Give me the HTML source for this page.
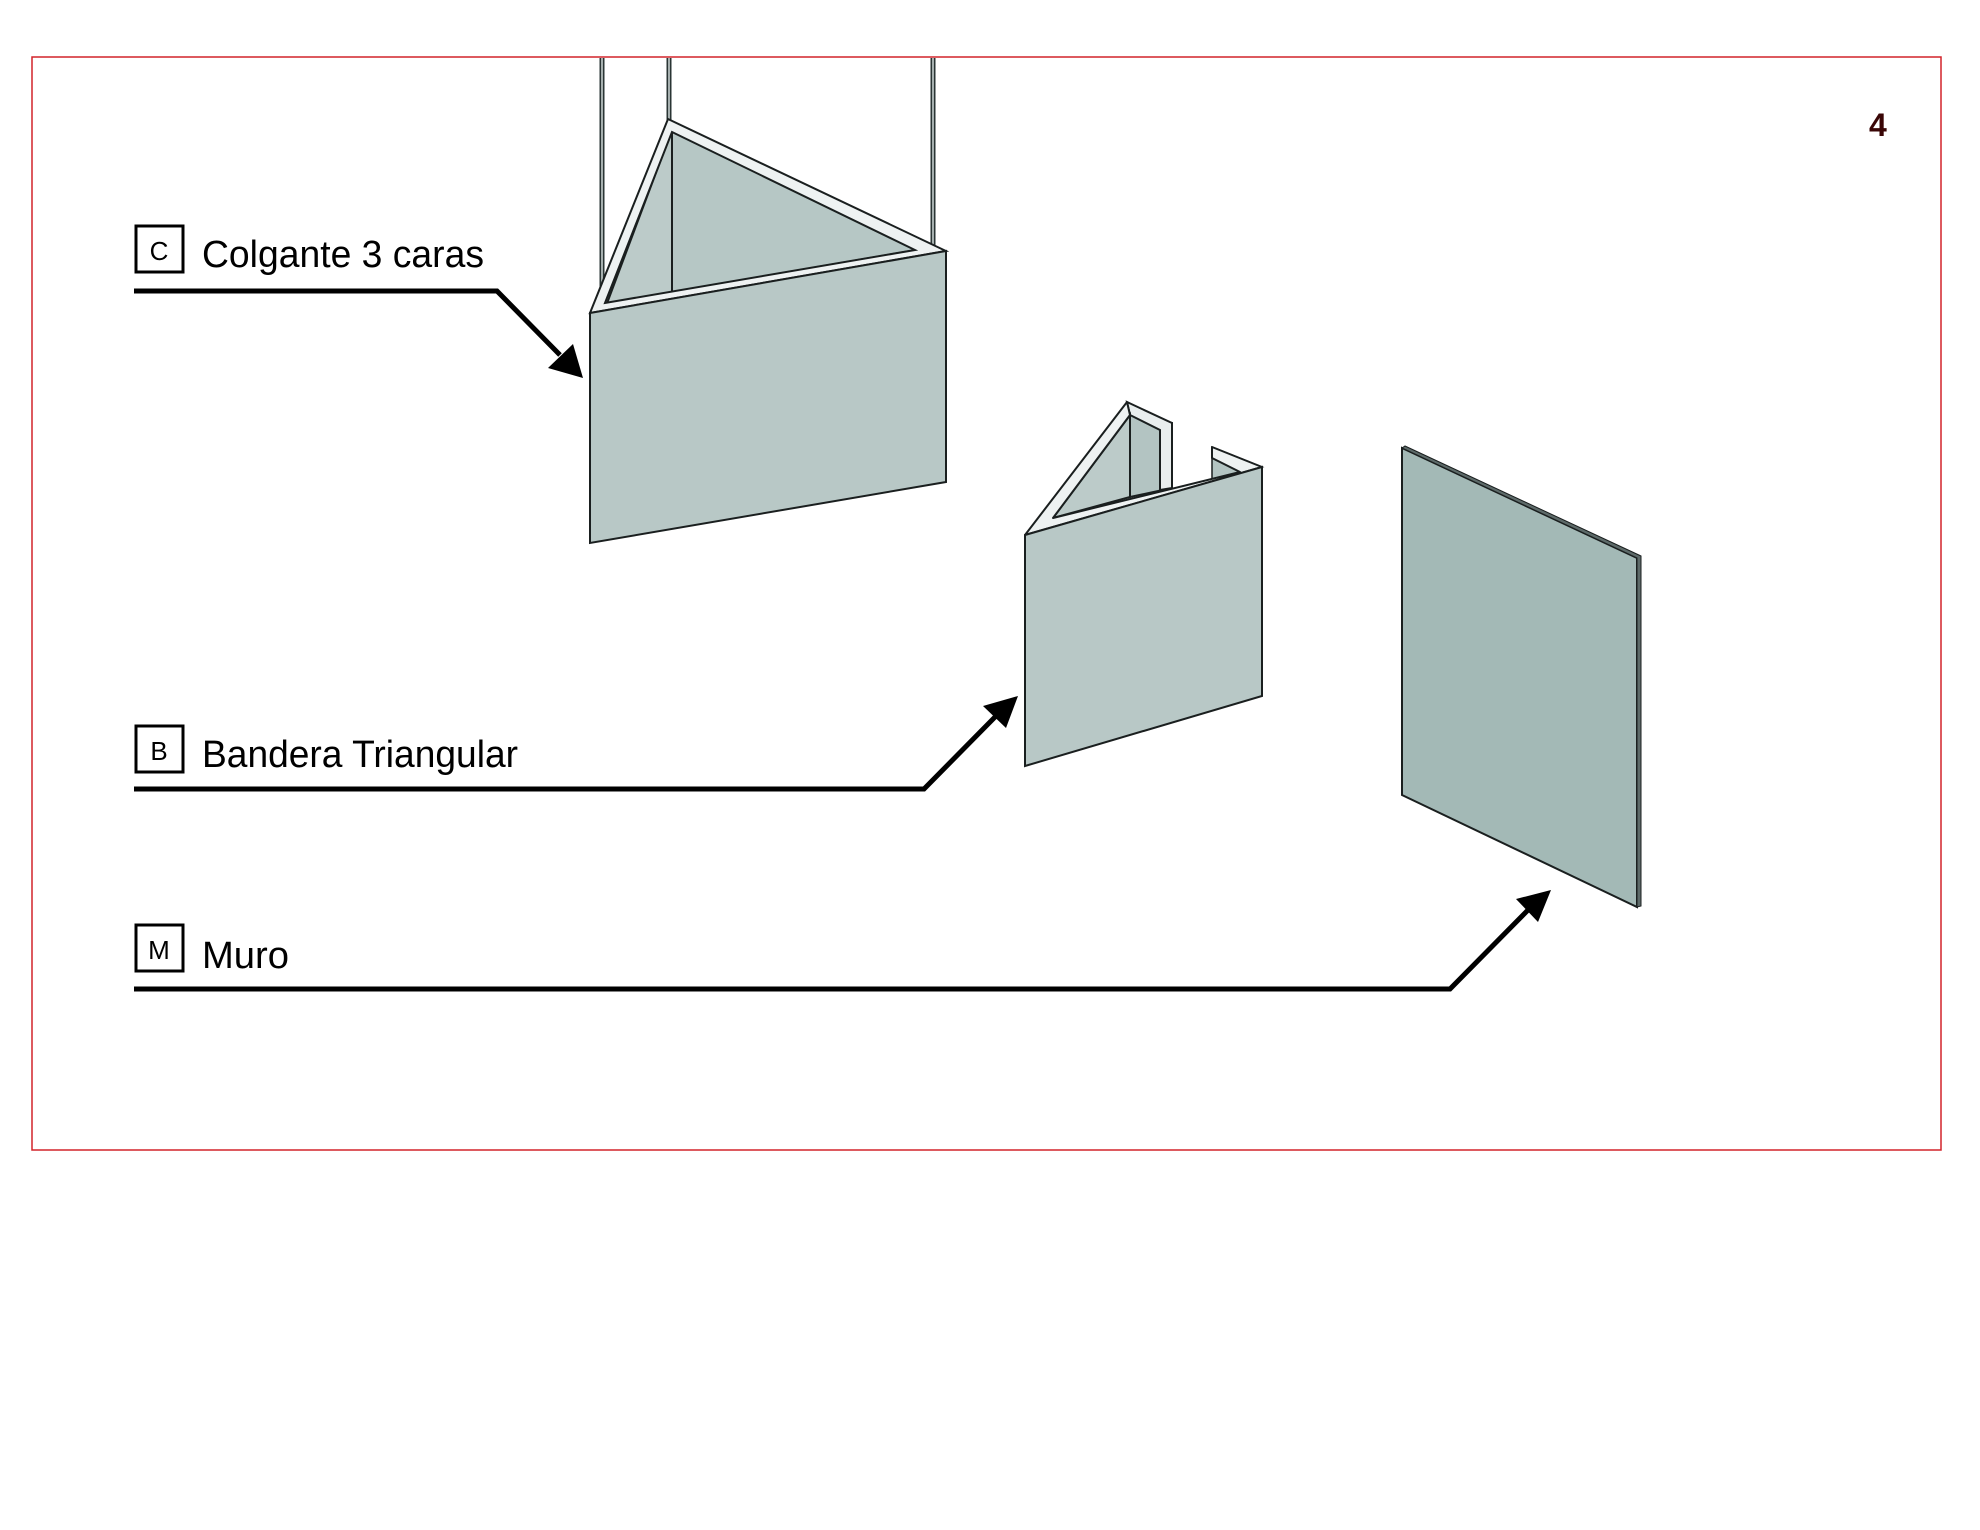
<!DOCTYPE html>
<html><head><meta charset="utf-8"><style>
html,body{margin:0;padding:0;background:#fff;width:1980px;height:1530px;overflow:hidden}
svg{display:block}
text{font-family:"Liberation Sans",sans-serif;fill:#000}
</style></head><body>
<svg width="1980" height="1530" viewBox="0 0 1980 1530" xmlns="http://www.w3.org/2000/svg">
<rect x="32" y="57" width="1909" height="1093" fill="none" stroke="#d2232a" stroke-width="1.5"/>
<text x="1869" y="136" font-size="32" style="fill:#3a0606;font-weight:bold">4</text>

<!-- Colgante rods -->
<g stroke="#2a3534" stroke-width="5" fill="none">
<line x1="602" y1="58" x2="602" y2="313"/>
<line x1="669" y1="58" x2="669" y2="120"/>
<line x1="933" y1="58" x2="933" y2="250"/>
</g>
<g stroke="#cfd9d8" stroke-width="1.5">
<line x1="602" y1="58" x2="602" y2="313"/>
<line x1="669" y1="58" x2="669" y2="120"/>
<line x1="933" y1="58" x2="933" y2="250"/>
</g>
<polygon points="672,130 672,292 606,306" fill="#bccbc9" stroke="#1a1f1f" stroke-width="2"/>
<polygon points="672,130 916,250 672,292" fill="#b6c7c5" stroke="#1a1f1f" stroke-width="2"/>
<path d="M668,119 L946,251 L590,313 Z M672,132 L915,250 L605,303 Z" fill="#eef2f2" fill-rule="evenodd" stroke="#1a1f1f" stroke-width="2"/>
<polygon points="590,313 946,251 946,482 590,543" fill="#b8c8c6" stroke="#1a1f1f" stroke-width="2"/>

<!-- Bandera -->
<polygon points="1130,415 1172,423 1172,488 1130,497" fill="#b3c4c2" stroke="#1a1f1f" stroke-width="2"/>
<polygon points="1127,402 1172,423 1172,488 1160,490 1160,430 1130,415" fill="#e9eeee" stroke="#1a1f1f" stroke-width="2"/>
<polygon points="1130,415 1130,497 1053,518" fill="#bccbc9" stroke="#1a1f1f" stroke-width="2"/>
<polygon points="1212,447 1262,467 1212,480" fill="#b3c4c2" stroke="#1a1f1f" stroke-width="1.5"/>
<path d="M1127,402 L1130,415 L1053,518 L1240,472 L1212,458 L1212,447 L1262,467 L1025,535 Z" fill="#eef2f2" stroke="#1a1f1f" stroke-width="2" stroke-linejoin="round"/>
<polygon points="1025,535 1262,467 1262,696 1025,766" fill="#b8c8c6" stroke="#1a1f1f" stroke-width="2"/>

<!-- Muro -->
<polygon points="1402,448 1637,558 1637,907 1402,795" fill="#a3b9b6" stroke="#1a1f1f" stroke-width="2"/>
<polygon points="1402,448 1405,446 1641,556 1641,906 1637,907 1637,558" fill="#5d6a69" stroke="#1a1f1f" stroke-width="1"/>

<!-- Labels -->
<g fill="none" stroke="#000" stroke-width="3">
<rect x="136" y="226" width="47" height="46"/>
<rect x="136" y="726" width="47" height="46"/>
<rect x="136" y="925" width="47" height="46"/>
</g>
<text x="159" y="260" font-size="26" text-anchor="middle">C</text>
<text x="159" y="760" font-size="26" text-anchor="middle">B</text>
<text x="159" y="959" font-size="26" text-anchor="middle">M</text>
<text x="202" y="267" font-size="38" textLength="282" lengthAdjust="spacingAndGlyphs">Colgante 3 caras</text>
<text x="202" y="767" font-size="38" textLength="316" lengthAdjust="spacingAndGlyphs">Bandera Triangular</text>
<text x="202" y="968" font-size="38" textLength="87" lengthAdjust="spacingAndGlyphs">Muro</text>

<g stroke="#000" stroke-width="5" fill="none" stroke-linejoin="miter">
<polyline points="134,291 497,291 560,355"/>
<polyline points="134,789 924,789 995,717"/>
<polyline points="134,989 1450,989 1528,910"/>
</g>
<polygon points="583,378 548,368 573,344" fill="#000"/>
<polygon points="1018,696 1006,728 983,706" fill="#000"/>
<polygon points="1551,890 1538,922 1516,899" fill="#000"/>
</svg>
</body></html>
